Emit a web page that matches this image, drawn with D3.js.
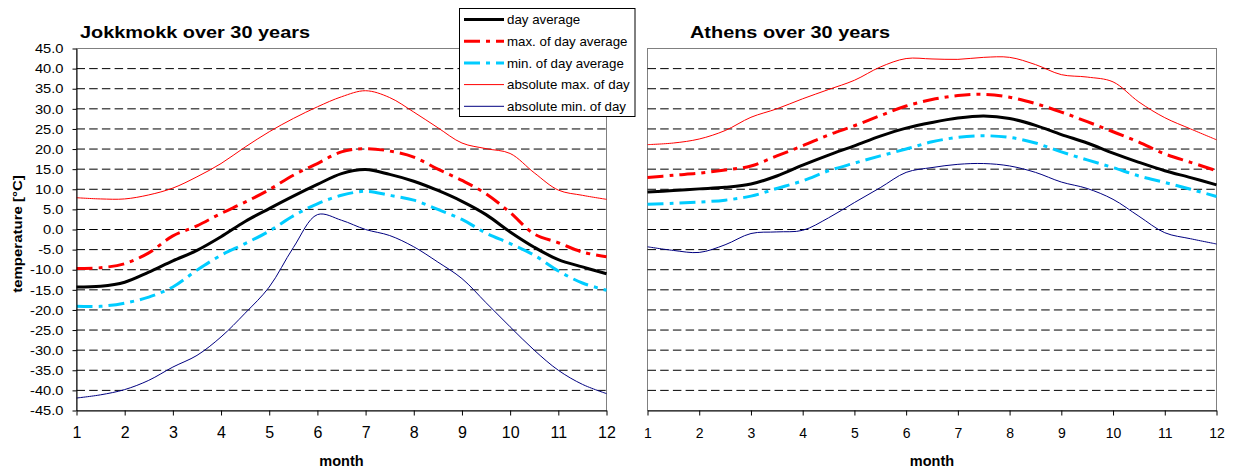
<!DOCTYPE html>
<html>
<head>
<meta charset="utf-8">
<script src="https://cdn.jsdelivr.net/npm/d3@7"></script>
<style>
  body { margin: 0; background: #fff; }
  svg { display: block; font-family: "Liberation Sans", Arial, Helvetica, sans-serif; }
</style>
</head>
<body>
<svg id="chart" width="1234" height="472"></svg>
<script>
// Sample positions along the year (month number, twice a month)
const months = [1, 1.5, 2, 2.5, 3, 3.5, 4, 4.5, 5, 5.5, 6, 6.5, 7, 7.5, 8, 8.5, 9, 9.5, 10, 10.5, 11, 11.5, 12];
const monthTicks = [1, 2, 3, 4, 5, 6, 7, 8, 9, 10, 11, 12];
const tempTicks = [-45, -40, -35, -30, -25, -20, -15, -10, -5, 0, 5, 10, 15, 20, 25, 30, 35, 40, 45];
const gridTicks = [-40, -35, -30, -25, -20, -15, -10, -5, 0, 5, 10, 15, 20, 25, 30, 35, 40];

const seriesNames = ["day average", "max. of day average", "min. of day average", "absolute max. of day", "absolute min. of day"];

// Jokkmokk, temperatures in °C
const jokkDay    = [-14.3, -14.1, -13.1, -10.6, -7.8, -5.2, -1.8, 2.0, 5.2, 8.3, 11.2, 13.9, 14.9, 13.7, 12.0, 9.7, 7.0, 3.7, -0.6, -4.4, -7.5, -9.3, -11.0];
const jokkMax    = [-9.7, -9.5, -8.5, -5.8, -1.6, 0.9, 4.0, 6.8, 9.9, 13.5, 16.4, 19.3, 20.1, 19.5, 18.0, 15.0, 12.2, 8.9, 4.2, -1.1, -3.3, -5.6, -6.8];
const jokkMin    = [-19.1, -19.1, -18.3, -16.8, -14.3, -10.1, -6.4, -3.5, -0.4, 3.4, 6.4, 8.5, 9.5, 8.5, 7.3, 5.0, 2.5, -0.9, -3.5, -6.4, -10.3, -13.3, -15.1];
const jokkAbsMax = [7.9, 7.6, 7.6, 8.6, 10.3, 13.1, 16.4, 20.5, 24.3, 27.6, 30.5, 33.0, 34.5, 32.8, 29.2, 25.3, 21.5, 20.1, 18.9, 14.1, 9.8, 8.5, 7.5];
const jokkAbsMin = [-41.9, -41.1, -39.8, -37.5, -34.2, -31.3, -26.7, -20.8, -14.3, -4.5, 3.7, 2.3, 0.0, -1.5, -4.3, -8.1, -12.2, -18.2, -24.2, -30.0, -35.0, -38.5, -40.8];

// Athens, temperatures in °C
const athDay    = [9.3, 9.7, 10.1, 10.5, 11.3, 13.3, 16.0, 18.5, 20.8, 23.2, 25.2, 26.6, 27.7, 28.2, 27.6, 25.9, 23.6, 21.5, 19.0, 16.7, 14.6, 12.9, 11.1];
const athMax    = [12.9, 13.5, 14.0, 14.8, 15.8, 18.3, 20.8, 23.5, 25.8, 28.3, 30.7, 32.3, 33.3, 33.6, 32.9, 31.3, 29.2, 26.8, 24.3, 21.7, 18.8, 16.7, 14.6];
const athMin    = [6.3, 6.5, 6.8, 7.3, 8.3, 10.2, 12.1, 14.6, 16.5, 18.3, 20.0, 21.8, 22.9, 23.3, 22.9, 21.5, 19.3, 17.3, 15.4, 13.3, 11.7, 10.0, 8.2];
const athAbsMax = [21.1, 21.5, 22.5, 24.6, 27.9, 30.0, 32.5, 34.8, 37.1, 40.4, 42.5, 42.4, 42.3, 42.8, 42.8, 41.0, 38.5, 37.9, 36.7, 31.7, 27.8, 25.0, 22.3];
const athAbsMin = [-4.3, -5.2, -5.7, -3.8, -1.0, -0.6, -0.2, 2.9, 6.7, 10.4, 14.2, 15.4, 16.2, 16.4, 15.8, 14.2, 11.8, 10.2, 7.5, 3.3, -0.8, -2.3, -3.6];

const lineStyles = [
  { color: "#000000", width: 3, dash: null },
  { color: "#ff0000", width: 3, dash: "16,6,4,6" },
  { color: "#00ccff", width: 3, dash: "16,6,4,6" },
  { color: "#ff0000", width: 1, dash: null },
  { color: "#000080", width: 1, dash: null }
];

const panels = [
  { title: "Jokkmokk over 30 years", left: 76.5, right: 606.5, titleX: 80, yLabels: true, xFont: 16,
    series: [jokkDay, jokkMax, jokkMin, jokkAbsMax, jokkAbsMin] },
  { title: "Athens over 30 years", left: 647.5, right: 1216.5, titleX: 690, yLabels: false, xFont: 14,
    series: [athDay, athMax, athMin, athAbsMax, athAbsMin] }
];

// widen text along its reading direction by factor k
function widen(sel, k) {
  sel.each(function () {
    const w = this.getComputedTextLength();
    d3.select(this).attr("textLength", w * k).attr("lengthAdjust", "spacingAndGlyphs");
  });
}

const plotTop = 48.5, plotBottom = 410.5;
const svg = d3.select("#chart");
const y = d3.scaleLinear().domain([-45, 45]).range([plotBottom, plotTop]);

panels.forEach(p => {
  const x = d3.scaleLinear().domain([1, 12]).range([p.left, p.right]);
  const g = svg.append("g");

  // plot area frame
  g.append("rect")
    .attr("x", p.left).attr("y", plotTop)
    .attr("width", p.right - p.left).attr("height", plotBottom - plotTop)
    .attr("fill", "none").attr("stroke", "#808080").attr("stroke-width", 1);

  // dashed horizontal gridlines
  g.append("g").selectAll("line").data(gridTicks).join("line")
    .attr("x1", p.left).attr("x2", p.right)
    .attr("y1", d => y(d)).attr("y2", d => y(d))
    .attr("stroke", "#000").attr("stroke-width", 1)
    .attr("stroke-dasharray", "8.5,4.2");

  // data lines
  const line = d3.line()
    .x((d, i) => x(months[i]))
    .y(d => y(d))
    .curve(d3.curveCatmullRom.alpha(0.5));

  p.series.forEach((vals, si) => {
    const st = lineStyles[si];
    g.append("path")
      .datum(vals)
      .attr("d", line)
      .attr("fill", "none")
      .attr("stroke", st.color)
      .attr("stroke-width", st.width)
      .attr("stroke-dasharray", st.dash)
      .attr("stroke-linejoin", "round");
  });

  // x axis
  const xAxis = g.append("g")
    .attr("transform", `translate(0,${plotBottom})`)
    .call(d3.axisBottom(x).tickValues(monthTicks).tickFormat(d3.format("d"))
      .tickSize(5).tickSizeOuter(0).tickPadding(p.xFont === 16 ? 11 : 12.5));
  xAxis.selectAll("text").attr("font-size", p.xFont).attr("fill", "#000")
    .attr("font-family", "'Liberation Sans', Arial, sans-serif");
  xAxis.selectAll("line, path").attr("stroke", "#000");

  // y axis
  if (p.yLabels) {
    const yAxis = g.append("g")
      .attr("transform", `translate(${p.left},0)`)
      .call(d3.axisLeft(y).tickValues(tempTicks).tickFormat(d => d.toFixed(1))
        .tickSize(4).tickSizeOuter(0).tickPadding(9));
    yAxis.selectAll("text").attr("font-size", 13).attr("fill", "#000")
      .attr("font-family", "'Liberation Sans', Arial, sans-serif")
      .call(widen, 1.13);
    yAxis.selectAll("line, path").attr("stroke", "#000");
  }

  // titles
  g.append("text")
    .attr("x", p.titleX).attr("y", 37.5)
    .attr("font-size", 17).attr("font-weight", "bold")
    .text(p.title)
    .call(widen, 1.17);

  g.append("text")
    .attr("x", (p.left + p.right) / 2).attr("y", 466)
    .attr("text-anchor", "middle")
    .attr("font-size", 14.5).attr("font-weight", "bold")
    .text("month");
});

// y axis title
svg.append("text")
  .attr("transform", "translate(21.5,234) rotate(-90)")
  .attr("text-anchor", "middle")
  .attr("font-size", 12.5).attr("font-weight", "bold")
  .text("temperature [°C]")
  .call(widen, 1.2);

// legend
const legend = svg.append("g");
legend.append("rect")
  .attr("x", 459.5).attr("y", 8.5).attr("width", 175.5).attr("height", 108)
  .attr("fill", "#fff").attr("stroke", "#000").attr("stroke-width", 1);

const rows = legend.selectAll("g.row").data(seriesNames).join("g")
  .attr("class", "row")
  .attr("transform", (d, i) => `translate(0,${19.5 + i * 21.7})`);
rows.append("line")
  .attr("x1", 464).attr("x2", 504).attr("y1", 0).attr("y2", 0)
  .attr("stroke", (d, i) => lineStyles[i].color)
  .attr("stroke-width", (d, i) => lineStyles[i].width)
  .attr("stroke-dasharray", (d, i) => lineStyles[i].dash);
rows.append("text")
  .attr("x", 507).attr("y", 0).attr("dy", "0.35em")
  .attr("font-size", 13.3)
  .text(d => d);
</script>
</body>
</html>
